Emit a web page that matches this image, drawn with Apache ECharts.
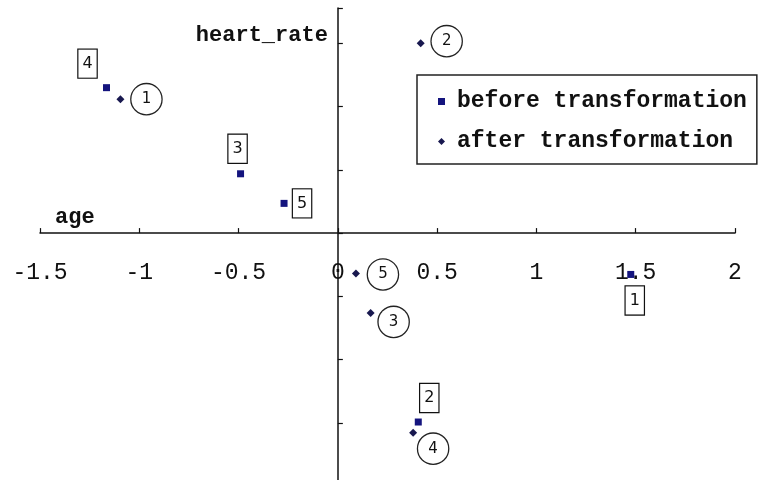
<!DOCTYPE html>
<html>
<head>
<meta charset="utf-8">
<script src="https://cdn.jsdelivr.net/npm/echarts@6/dist/echarts.min.js"></script>
<style>
  html, body { margin: 0; padding: 0; background: #fff; }
  #main { width: 759px; height: 480px; }
</style>
</head>
<body>
<div id="main"></div>
<script>
// point ids 1..5
const pointIds = ['1', '2', '3', '4', '5']

// standardized values, before transformation
const beforeAge = [1.475, 0.405, -0.49, -1.165, -0.271]
const beforeHeart = [-0.327, -1.494, 0.469, 1.150, 0.235]

// after transformation
const afterAge = [-1.095, 0.417, 0.165, 0.379, 0.091]
const afterHeart = [1.059, 1.502, -0.631, -1.578, -0.319]

const xTicks = { min: -1.5, max: 2, step: 0.5 }
const yRange = { min: -2, max: 1.78, step: 0.5 }

// label offsets (px) from each point, one per id
const boxOffsets = [[4, 26], [11, -24], [-3, -25], [-19, -24], [18, 0]]
const circleOffsets = [[26, 0], [26, -2], [23, 9], [20, 16], [27, 1]]

const monoFont = '"Liberation Mono", "DejaVu Sans Mono", monospace'

const gridTop = 8
const gridHeight = 478
// x axis sits on heart_rate = 0, labels must follow it
const zeroShift = gridHeight * (0 - yRange.min) / (yRange.max - yRange.min)

const buildData = (xs, ys, offsets) => xs.map((x, i) => ({
  name: pointIds[i],
  value: [x, ys[i]],
  label: { offset: offsets[i] }
}))

const chart = echarts.init(document.getElementById('main'))

chart.setOption({
  animation: false,
  grid: {
    left: 40,
    right: 24,
    top: gridTop,
    height: gridHeight,
    containLabel: false,
    outerBoundsMode: 'none'
  },
  legend: {
    orient: 'vertical',
    left: 417,
    top: 75,
    padding: [15, 10, 11, 21],
    itemGap: 17,
    itemWidth: 7,
    itemHeight: 7,
    borderColor: '#222',
    borderWidth: 1.5,
    textStyle: {
      fontFamily: monoFont,
      fontSize: 23,
      fontWeight: 'bold',
      color: '#111',
      padding: [0, 0, 0, 7]
    },
    data: ['before transformation', 'after transformation']
  },
  xAxis: {
    type: 'value',
    position: 'bottom',
    offset: -zeroShift,
    min: xTicks.min,
    max: xTicks.max,
    interval: xTicks.step,
    name: 'age',
    nameLocation: 'start',
    nameGap: -15,
    nameTextStyle: {
      fontFamily: monoFont,
      fontSize: 22,
      fontWeight: 'bold',
      color: '#111',
      align: 'left',
      verticalAlign: 'bottom',
      padding: [0, 0, 5, 0]
    },
    axisLine: { onZero: false, lineStyle: { color: '#111', width: 1.5 } },
    axisTick: { inside: true, length: 5, lineStyle: { color: '#111', width: 1.2 } },
    axisLabel: {
      margin: 28,
      fontFamily: monoFont,
      fontSize: 23,
      color: '#111'
    },
    splitLine: { show: false }
  },
  yAxis: {
    type: 'value',
    min: yRange.min,
    max: yRange.max,
    interval: yRange.step,
    name: 'heart_rate',
    nameLocation: 'end',
    nameGap: -27,
    nameTextStyle: {
      fontFamily: monoFont,
      fontSize: 22,
      fontWeight: 'bold',
      color: '#111',
      align: 'right',
      verticalAlign: 'middle',
      padding: [0, 10, 0, 0]
    },
    axisLine: { onZero: true, lineStyle: { color: '#111', width: 1.5 } },
    axisTick: { inside: true, length: 5, lineStyle: { color: '#111', width: 1.2 } },
    axisLabel: { show: false },
    splitLine: { show: false }
  },
  series: [
    {
      name: 'before transformation',
      type: 'scatter',
      symbol: 'rect',
      symbolSize: 7,
      itemStyle: { color: '#14147e', opacity: 1 },
      label: {
        show: true,
        position: 'inside',
        formatter: '{b}',
        fontFamily: '"DejaVu Sans", sans-serif',
        fontSize: 16,
        color: '#111',
        backgroundColor: '#fff',
        borderColor: '#111',
        borderWidth: 1.2,
        padding: [7, 4, 5, 4]
      },
      data: buildData(beforeAge, beforeHeart, boxOffsets)
    },
    {
      name: 'after transformation',
      type: 'scatter',
      symbol: 'diamond',
      symbolSize: 8,
      itemStyle: { color: '#18184f', opacity: 1 },
      label: {
        show: true,
        position: 'inside',
        formatter: '{b}',
        fontFamily: '"DejaVu Sans", sans-serif',
        fontSize: 15,
        color: '#111',
        width: 30,
        height: 30,
        lineHeight: 34,
        align: 'center',
        borderRadius: 16,
        borderColor: '#222',
        borderWidth: 1.3,
        backgroundColor: '#fff'
      },
      data: buildData(afterAge, afterHeart, circleOffsets)
    }
  ]
})
</script>
</body>
</html>
